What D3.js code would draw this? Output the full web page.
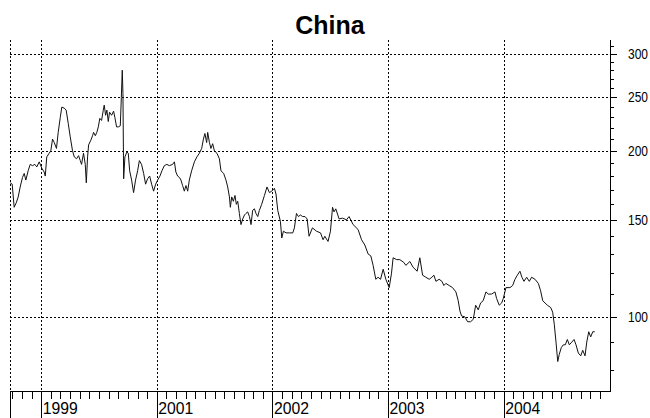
<!DOCTYPE html>
<html>
<head>
<meta charset="utf-8">
<script src="https://cdn.jsdelivr.net/npm/d3@7/dist/d3.min.js"></script>
<style>
  body { margin: 0; background: #fff; }
  svg { display: block; }
  .title { font-family: "Liberation Sans", Arial, sans-serif; font-weight: bold; font-size: 25px; }
  .lbl { font-family: "Liberation Sans", Arial, sans-serif; fill: #000; }
  .grid { stroke: #000; stroke-width: 1; stroke-dasharray: 2,2; shape-rendering: crispEdges; }
</style>
</head>
<body>
<script>
// weekly closes (fractional year / index level)
const times = [
  1998.732,1998.749,1998.766,1998.784,1998.801,1998.818,1998.838,1998.853,1998.867,1998.887,
  1998.905,1998.925,1998.945,1998.962,1998.983,1999.005,1999.026,1999.035,1999.048,1999.069,
  1999.083,1999.098,1999.113,1999.132,1999.147,1999.165,1999.178,1999.199,1999.216,1999.234,
  1999.251,1999.271,1999.286,1999.306,1999.323,1999.338,1999.349,1999.366,1999.381,1999.390,
  1999.401,1999.410,1999.429,1999.444,1999.453,1999.468,1999.481,1999.494,1999.507,1999.522,
  1999.537,1999.545,1999.557,1999.568,1999.580,1999.591,1999.609,1999.626,1999.637,1999.652,
  1999.669,1999.684,1999.693,1999.701,1999.707,1999.713,1999.724,1999.741,1999.753,1999.765,
  1999.782,1999.799,1999.816,1999.834,1999.849,1999.868,1999.886,1999.903,1999.920,1999.938,
  1999.955,1999.972,1999.990,2000.007,2000.027,2000.044,2000.065,2000.087,2000.108,2000.137,
  2000.152,2000.165,2000.180,2000.195,2000.209,2000.223,2000.238,2000.252,2000.267,2000.281,
  2000.301,2000.325,2000.347,2000.368,2000.388,2000.403,2000.416,2000.431,2000.440,2000.455,
  2000.468,2000.483,2000.498,2000.520,2000.541,2000.555,2000.578,2000.598,2000.613,2000.628,
  2000.636,2000.648,2000.662,2000.676,2000.688,2000.700,2000.714,2000.728,2000.743,2000.758,
  2000.771,2000.786,2000.801,2000.815,2000.829,2000.844,2000.858,2000.873,2000.887,2000.907,
  2000.931,2000.953,2000.974,2000.994,2001.017,2001.031,2001.046,2001.069,2001.081,2001.095,
  2001.118,2001.147,2001.176,2001.190,2001.208,2001.225,2001.242,2001.262,2001.282,2001.300,
  2001.317,2001.346,2001.381,2001.416,2001.438,2001.453,2001.481,2001.502,2001.520,2001.533,
  2001.548,2001.577,2001.606,2001.641,2001.663,2001.698,2001.741,2001.771,2001.799,2001.828,
  2001.851,2001.871,2001.894,2001.914,2001.935,2001.958,2001.981,2002.010,2002.030,2002.044,
  2002.074,2002.102,2002.137,2002.154,2002.189,2002.217,2002.252,2002.275,2002.299,2002.327,
  2002.356,2002.379,2002.397,2002.414,2002.442,2002.466,2002.483,2002.500,2002.529,2002.558,
  2002.587,2002.607,2002.622,2002.636,2002.665,2002.688,2002.714,2002.737,2002.758,2002.780,
  2002.801,2002.823,2002.847,2002.867,2002.896,2002.925,2002.939,2002.962,2002.983,2002.997,
  2003.020,2003.055,2003.078,2003.098,2003.118,2003.141,2003.158,2003.176,2003.199,2003.222,
  2003.242,2003.271,2003.300,2003.320,2003.338,2003.358,2003.378,2003.407,2003.424,2003.438,
  2003.453,2003.468,2003.481,2003.499,2003.516,2003.533,2003.551,2003.568,2003.589,2003.609,
  2003.626,2003.646,2003.667,2003.684,2003.704,2003.719,2003.736,2003.753,2003.771,2003.788
];
const values = [
  175,174,158,161,165,172,179,182,177,184,
  189,188,189,187,191,186,183,180,195,198,
  200,210,207,202,216,230,240,239,237,224,
  212,200,195,193.5,196,192,189,198,189,175,
  195,205,209,213,216,213,216,221,229,227,
  237,242,232,237,226,235,232,236,230,221,
  221,222,250,280,254,178,195,199,198,184,
  177,168,177,184,192,189,182,174,178,180,
  174,169,174,177,180,184,188,189,188,189,
  191,183,180,179,177,173,169,173,169,177,
  184,191,195,198,202,210,215,207,216,207,
  202,206,200,198,193.5,184,182,177,172,165,
  158,165,162,166,160,162,154,147,150.5,153,
  154,155,152,147,156,157,154,152,156,160,
  166,172,168,169,171,167,156,149,139,143,
  142,142,142,145,154,152,153,152,152,150.5,
  140,145,143,142,138,140,137,143,158,155,
  157,150.5,151,150,152,147,144,138,135,130,
  129,124,117,118,117,122,117,113,120,128,
  127,127,125.5,124,126,123,121,128,119,118,
  117,118,119,116,117,116,114,115,114,113,
  111,107,102.5,100.4,100,98,98,99,105,103,
  106,107,111,110,110,111,108,105,106,108,
  113,113,114,117,119,121,118,116,118,116,
  118,117,115,111.5,107,106,105,104,102,97,
  90,83,85.5,88,89,89,91,89,90,91,
  89,86,85,87,85,90,94,92,94,94
];
const yearTicks = [1999, 2000, 2001, 2002, 2003];
const yearLabels = ["1999", "2001", "2002", "2003", "2004"];
const yMajor = [100, 150, 200, 250, 300];
const yMinor = d3.range(80, 320, 10);

const W = 650, H = 418;
const pL = 10, pR = 610, pT = 40, pB = 391;

const x = d3.scaleLinear().domain([1998.73, 2003.92]).range([pL, pR]);
const y = d3.scaleLog().domain([73.4, 317.6]).range([pB, pT]);

const svg = d3.select('body').append('svg').attr('width', W).attr('height', H);

svg.append('text').attr('class', 'title')
  .attr('x', 330).attr('y', 34).attr('text-anchor', 'middle').text('China');

// horizontal grid
svg.selectAll('line.hg').data(yMajor).join('line')
  .attr('class', 'grid')
  .attr('x1', pL).attr('x2', pR)
  .attr('y1', d => Math.round(y(d)) + 0.5).attr('y2', d => Math.round(y(d)) + 0.5);

// vertical grid (left edge + year starts)
const vgrid = [x.domain()[0]].concat(yearTicks);
svg.selectAll('line.vg').data(vgrid).join('line')
  .attr('class', 'grid')
  .attr('x1', d => Math.round(x(d)) + 0.5).attr('x2', d => Math.round(x(d)) + 0.5)
  .attr('y1', pT).attr('y2', pB);

// price line
const line = d3.line().x((d, i) => x(times[i])).y(d => y(d));
svg.append('path').datum(values)
  .attr('fill', 'none').attr('stroke', '#111').attr('stroke-width', 1)
  .attr('stroke-linejoin', 'round').attr('d', line);

// bottom axis
const g = svg.append('g').attr('shape-rendering', 'crispEdges');
g.append('line').attr('x1', pL).attr('x2', pR + 1)
  .attr('y1', pB + 0.5).attr('y2', pB + 0.5).attr('stroke', '#000');

const months = [];
for (let yr = 1998; yr <= 2003; yr++) {
  for (let m = 1; m < 12; m++) {
    const t = yr + m / 12;
    if (t > x.domain()[0] + 0.01 && t < x.domain()[1] - 0.01) months.push(t);
  }
}
g.selectAll('line.mt').data(months).join('line')
  .attr('x1', d => Math.round(x(d)) + 0.5).attr('x2', d => Math.round(x(d)) + 0.5)
  .attr('y1', pB).attr('y2', pB + 8).attr('stroke', '#000');

g.selectAll('line.yt').data(vgrid).join('line')
  .attr('x1', d => Math.round(x(d)) + 0.5).attr('x2', d => Math.round(x(d)) + 0.5)
  .attr('y1', pB).attr('y2', H).attr('stroke', '#000');

svg.selectAll('text.xl').data(yearTicks).join('text')
  .attr('class', 'lbl').attr('font-size', 17)
  .attr('x', d => x(d) + 1.5).attr('y', 414)
  .attr('textLength', 35).attr('lengthAdjust', 'spacingAndGlyphs')
  .text((d, i) => yearLabels[i]);

// right axis
g.append('line').attr('x1', pR + 0.5).attr('x2', pR + 0.5)
  .attr('y1', pT).attr('y2', pB).attr('stroke', '#000');
g.selectAll('line.ymin').data(yMinor.filter(v => y(v) >= pT && y(v) <= pB)).join('line')
  .attr('x1', pR).attr('x2', pR + 4)
  .attr('y1', d => Math.round(y(d)) + 0.5).attr('y2', d => Math.round(y(d)) + 0.5)
  .attr('stroke', '#000');
g.selectAll('line.ymaj').data(yMajor).join('line')
  .attr('x1', pR).attr('x2', pR + 7)
  .attr('y1', d => Math.round(y(d)) + 0.5).attr('y2', d => Math.round(y(d)) + 0.5)
  .attr('stroke', '#000');
svg.selectAll('text.yl').data(yMajor).join('text')
  .attr('class', 'lbl').attr('font-size', 14)
  .attr('x', 628).attr('y', d => y(d)).attr('dy', '0.35em')
  .attr('textLength', 20).attr('lengthAdjust', 'spacingAndGlyphs')
  .text(d => d);
</script>
</body>
</html>
